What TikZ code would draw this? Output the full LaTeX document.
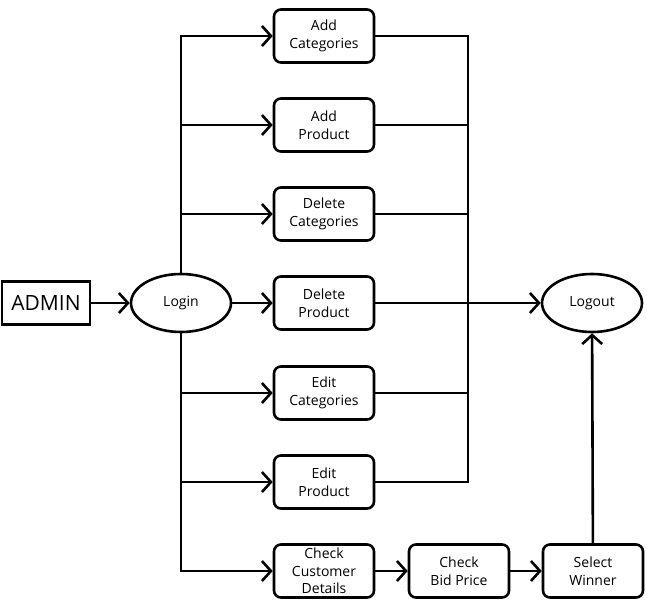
\documentclass[tikz,border=0pt]{standalone}
\usepackage{fontspec}
\setmainfont{Open Sans}
\usetikzlibrary{arrows.meta,shapes.geometric}

\tikzset{
  box/.style={draw,line width=2.6pt,rounded corners=7pt,minimum width=100pt,minimum height=53pt,
    inner sep=0pt,align=center,font=\fontsize{14}{17.5}\selectfont},
  oval/.style={draw,ellipse,line width=2.6pt,minimum width=100pt,minimum height=58pt,
    inner sep=0pt,font=\fontsize{14}{17}\selectfont},
  line/.style={line width=2.6pt},
  flow/.style={line width=2.6pt,-{Straight Barb[length=9pt,width=20pt]}}
}

\begin{document}
\begin{tikzpicture}[x=1pt,y=-1pt]
\useasboundingbox (0,0) rectangle (647,613);

\node[draw,line width=2.6pt,minimum width=88pt,minimum height=43pt,inner sep=0pt,
  font=\fontsize{21}{24}\selectfont] (admin) at (46,303) {ADMIN};
\node[oval] (login) at (181,303) {Login};
\node[oval] (logout) at (592,303) {Logout};

% column of tasks
\foreach \n/\y/\t in {ac/36/Add\\Categories, ap/125/Add\\Product, dc/214/Delete\\Categories,
  dp/303/Delete\\Product, ec/393/Edit\\Categories, ep/482/Edit\\Product,
  ccd/571/Check\\Customer\\Details}
{
\node[box] (\n) at (324,\y) {\t};
}
\node[box] (cbp) at (459,571) {Check\\Bid Price};
\node[box] (sw) at (593,571) {Select\\Winner};

\coordinate (rj) at (468,303);

\draw[flow] (admin) -- (login);
\draw[flow] (login.north) |- (ac.west);
\draw[flow] (login.south) |- (ccd.west);
\foreach \n in {ap,dc,ec,ep}
{
\draw[flow] (login.north |- \n.west) -- (\n.west);
}
\draw[flow] (login) -- (dp);

\draw[line] (ac.east) -| (rj);
\draw[line] (ep.east) -| (rj);
\foreach \n in {ap,dc,ec}
{
\draw[line] (\n.east) -- (\n.east -| rj);
}
\draw[flow] (dp) -- (logout);

\draw[flow] (ccd) -- (cbp);
\draw[flow] (cbp) -- (sw);
\draw[flow] (sw) -- (logout);
\end{tikzpicture}
\end{document}
